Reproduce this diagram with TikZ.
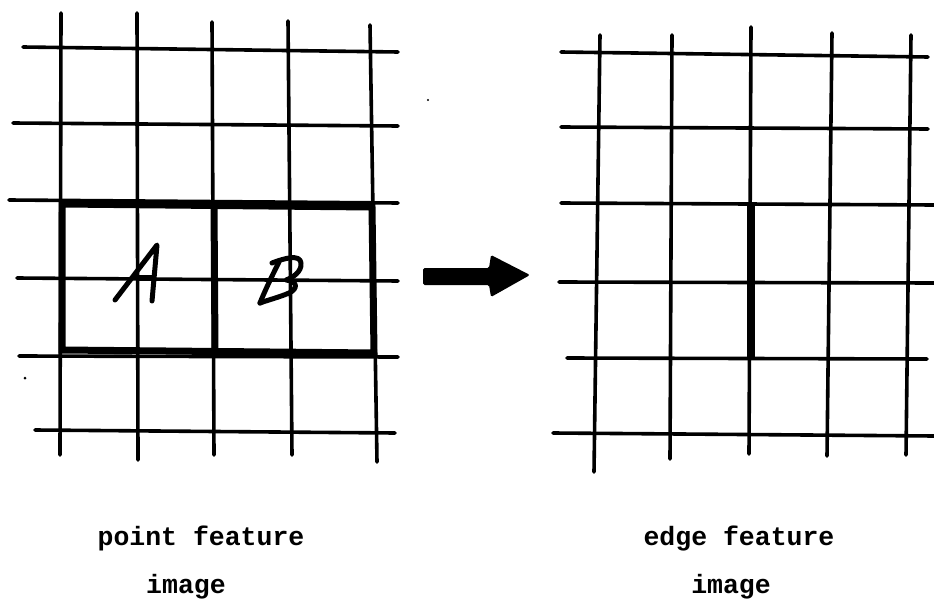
\documentclass[tikz,border=0pt]{standalone}
\usepackage{fontspec}
\setmonofont{Liberation Mono}
\begin{document}
\begin{tikzpicture}[x=1pt,y=-1pt,
  gridline/.style={line width=3.6pt,line cap=round,black},
  boldline/.style={line width=7pt,line cap=round,black},
  lbl/.style={font=\ttfamily\bfseries\fontsize{26.5}{30}\selectfont,anchor=base,inner sep=0pt},
  hand/.style={line width=5pt,line cap=round,line join=round,black}]
\useasboundingbox (0,0) rectangle (934,604);
% left grid
\draw[gridline] (61,13) -- (60,455);
\draw[gridline] (137,13) -- (138,460);
\draw[gridline] (212,22) -- (214,455);
\draw[gridline] (288,21) -- (292,455);
\draw[gridline] (370,25) -- (377,462);
\draw[gridline] (23,47) -- (398,52);
\draw[gridline] (13,123) -- (398,126);
\draw[gridline] (9,200) -- (398,203);
\draw[gridline] (17,278) -- (398,281);
\draw[gridline] (19,356) -- (398,357);
\draw[gridline] (35,430) -- (395,433);
% bold regions A and B
\draw[boldline,line join=miter,line cap=butt] (62,204) -- (372,207) -- (374,353) -- (62,350) -- cycle;
\draw[boldline,line cap=butt] (214,205) -- (215,351);
% letter A
\draw[hand] (115,300) -- (157,245) -- (152,301);
\draw[hand] (134,277) -- (153,277);
% letter B
\draw[hand] (260,303) .. controls (266,288) and (274,272) .. (279,262);
\draw[hand] (272,263) .. controls (285,258) and (300,254) .. (301,263)
  .. controls (302,272) and (292,278) .. (286,280)
  .. controls (298,281) and (298,289) .. (289,293)
  .. controls (280,297) and (268,300) .. (260,303);
% arrow
\fill[black,rounded corners=1.5pt] (423,268) -- (489,268) -- (491,255) -- (530,275) -- (491,297) -- (489,285) -- (423,285) -- cycle;
% right grid
\draw[gridline] (600,35) -- (594,472);
\draw[gridline] (672,35) -- (670,459);
\draw[gridline] (751,27) -- (749,454);
\draw[gridline] (832,33) -- (827,456);
\draw[gridline] (911,35) -- (906,455);
\draw[gridline] (561,52) -- (928,57);
\draw[gridline] (561,127) -- (928,129);
\draw[gridline] (561,203) -- (934,205);
\draw[gridline] (559,282) -- (934,283);
\draw[gridline] (567,358) -- (927,359);
\draw[gridline] (553,433) -- (934,436);
\draw[line width=8pt,line cap=butt] (750.5,205) -- (750.5,358);
% specks
\fill (25,378) circle (1.5pt);
\fill (428,100) circle (1.2pt);
% labels
\node[lbl] (pf) at (201,545) {point feature};
\node[lbl] (pi) at (186,593) {image};
\node[lbl] (ef) at (739,545) {edge feature};
\node[lbl] (ei) at (731,593) {image};
\end{tikzpicture}
\end{document}
